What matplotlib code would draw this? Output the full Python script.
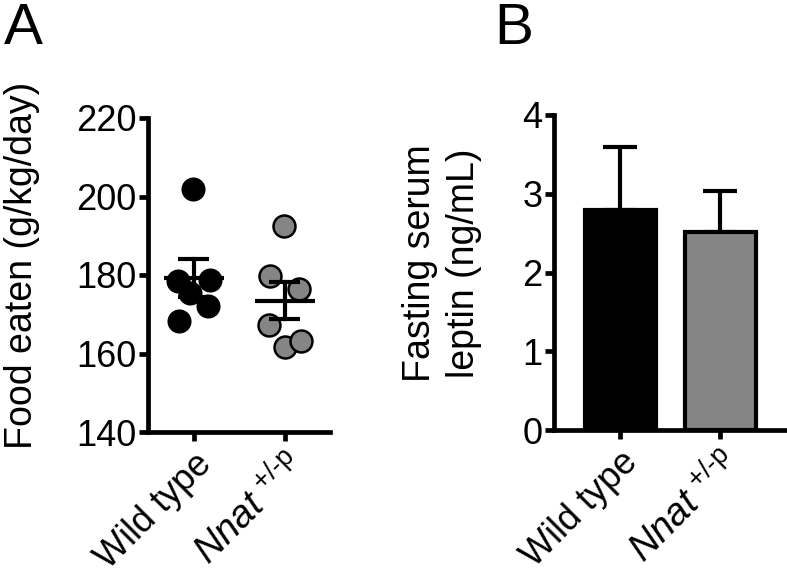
import numpy as np
import matplotlib
matplotlib.use("Agg")
import matplotlib.pyplot as plt

plt.rcParams['font.family'] = ['Liberation Sans', 'DejaVu Sans']
plt.rcParams['mathtext.fontset'] = 'custom'
plt.rcParams['mathtext.rm'] = 'Liberation Sans'
plt.rcParams['mathtext.it'] = 'Liberation Sans:italic'
plt.rcParams['mathtext.bf'] = 'Liberation Sans:bold'

# data
groups = ['Wild type', r'$\mathit{Nnat}^{\ \text{+/-p}}$']
food_wt = [202.0, 178.4, 178.7, 175.5, 172.2, 168.4]
food_nnat = [192.6, 179.7, 176.4, 167.3, 161.7, 163.2]
jitter_wt = [-0.01, -0.18, 0.18, -0.04, 0.15, -0.16]
jitter_nnat = [-0.01, -0.16, 0.15, -0.18, 0.0, 0.18]
leptin_mean = [2.80, 2.51]
leptin_sem = [0.80, 0.52]

W, H = 787, 578
fig = plt.figure(figsize=(W / 100, H / 100), dpi=100)

LW = 3.4
FS = 26


def style_axes(ax):
    for s in ['top', 'right']:
        ax.spines[s].set_visible(False)
    for s in ['left', 'bottom']:
        ax.spines[s].set_linewidth(LW)
    ax.tick_params(width=LW, length=6.5, labelsize=FS, pad=2)
    ax.tick_params(axis='x', pad=4)


def px_axes(l, r, t, b):
    return fig.add_axes([l / W, 1 - b / H, (r - l) / W, (b - t) / H])


def set_group_labels(ax):
    ax.set_xticklabels(groups, rotation=45, ha='right', va='top',
                       rotation_mode='anchor')
    ax.get_xticklabels()[1].set_fontsize(27.5)


# ---- panel A: scatter with mean +/- SEM
axA = px_axes(148, 330, 118, 432)
style_axes(axA)
axA.scatter(np.array(jitter_wt), food_wt, s=250, color='black',
            edgecolor='black', linewidth=1.5, zorder=3, clip_on=False)
axA.scatter(1 + np.array(jitter_nnat), food_nnat, s=250, color='#858585',
            edgecolor='black', linewidth=1.8, zorder=3, clip_on=False)
for i, vals in enumerate([food_wt, food_nnat]):
    m = np.mean(vals)
    sem = np.std(vals, ddof=1) / np.sqrt(len(vals))
    axA.plot([i - 0.33, i + 0.33], [m, m], color='black', lw=3, zorder=4,
             solid_capstyle='butt')
    axA.plot([i, i], [m - sem, m + sem], color='black', lw=3, zorder=4)
    for y in (m - sem, m + sem):
        axA.plot([i - 0.17, i + 0.17], [y, y], color='black', lw=3, zorder=4,
                 solid_capstyle='butt')
axA.set_xlim(-0.505, 1.495)
axA.set_ylim(140, 220)
axA.set_yticks([140, 160, 180, 200, 220])
axA.set_xticks([0, 1])
set_group_labels(axA)
fig.text(22 / W, 1 - 265 / H, 'Food eaten (g/kg/day)', rotation=90,
         ha='center', va='center', fontsize=27)

# ---- panel B: bars with SEM
axB = px_axes(554, 786, 115, 430)
style_axes(axB)
x = np.arange(len(leptin_mean))
axB.errorbar(x, leptin_mean, yerr=[[0, 0], leptin_sem], fmt='none',
             ecolor='black', elinewidth=3, capsize=12, capthick=3, zorder=1)
axB.bar(x, leptin_mean, width=0.71, color=['black', '#858585'],
        edgecolor='black', linewidth=3, zorder=2)
axB.set_xlim(-0.66, 1.66)
axB.set_ylim(0, 4)
axB.set_yticks([0, 1, 2, 3, 4])
axB.set_xticks(x)
set_group_labels(axB)
fig.text(442 / W, 1 - 263 / H, 'Fasting serum\nleptin (ng/mL)', rotation=90,
         ha='center', va='center', fontsize=27, linespacing=1.3,
         multialignment='center')

fig.text(4 / W, 1 - 2 / H, 'A', fontsize=42, ha='left', va='top')
fig.text(494 / W, 1 - 2 / H, 'B', fontsize=42, ha='left', va='top')

fig.savefig('out.png', dpi=100)
